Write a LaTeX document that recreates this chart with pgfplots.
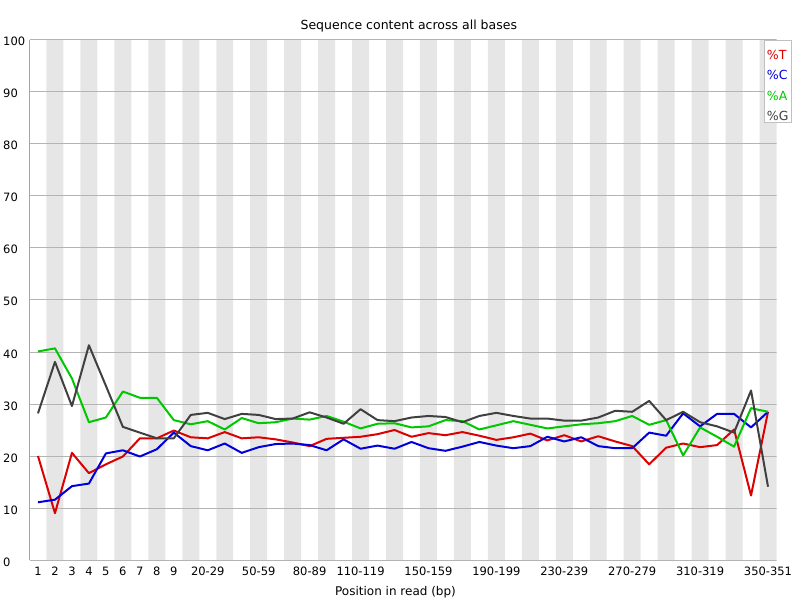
\documentclass[border=0pt]{standalone}
\usepackage{pgfplots}
\pgfplotsset{compat=1.18}
\usepackage{fontspec}
\setmainfont{DejaVu Sans}
\definecolor{cT}{RGB}{220,0,0}
\definecolor{cC}{RGB}{0,0,220}
\definecolor{cA}{RGB}{0,200,0}
\definecolor{cG}{RGB}{64,64,64}
\definecolor{stripe}{RGB}{230,230,230}
\definecolor{gridc}{RGB}{180,180,180}
\definecolor{legc}{RGB}{192,192,192}
\pgfplotstableread{
i T C A G
0 20.0 11.1 40.1 28.2
1 9.0 11.6 40.7 38.1
2 20.6 14.2 34.9 29.6
3 16.7 14.7 26.5 41.3
4 18.4 20.5 27.4 33.5
5 19.9 21.1 32.4 25.6
6 23.4 19.9 31.2 24.5
7 23.4 21.3 31.2 23.4
8 24.9 24.5 26.9 23.4
9 23.6 21.9 26.1 27.9
10 23.4 21.1 26.7 28.3
11 24.6 22.4 25.1 27.1
12 23.4 20.6 27.3 28.1
13 23.6 21.7 26.3 27.9
14 23.2 22.3 26.5 27.1
15 22.6 22.4 27.2 27.2
16 21.9 22.1 27.0 28.4
17 23.3 21.1 27.7 27.4
18 23.5 23.2 26.6 26.2
19 23.7 21.4 25.3 29.0
20 24.2 22.0 26.2 26.9
21 25.0 21.4 26.3 26.7
22 23.7 22.7 25.5 27.4
23 24.4 21.5 25.7 27.7
24 24.0 21.0 26.9 27.5
25 24.6 21.8 26.7 26.5
26 23.9 22.7 25.1 27.7
27 23.1 22.0 25.9 28.3
28 23.6 21.5 26.7 27.7
29 24.3 21.9 26.0 27.2
30 23.0 23.7 25.3 27.2
31 24.0 22.8 25.7 26.8
32 22.8 23.6 26.1 26.8
33 23.8 21.9 26.3 27.4
34 22.8 21.5 26.7 28.7
35 21.9 21.5 27.7 28.5
36 18.4 24.5 26.0 30.6
37 21.6 23.9 26.9 26.9
38 22.4 28.2 20.1 28.5
39 21.7 25.7 25.5 26.5
40 22.1 28.1 23.7 25.7
41 25.1 28.1 21.8 24.5
42 12.4 25.5 29.2 32.6
43 28.5 28.5 28.5 14.1
}\seqtable
\begin{document}
\begin{tikzpicture}
\path[use as bounding box] (-29.5pt,-40pt) rectangle (770.5pt,560pt);
\begin{axis}[
  at={(0pt,0pt)}, anchor=south west,
  scale only axis, width=747pt, height=520pt,
  xmin=-0.5, xmax=43.5, ymin=0, ymax=100,
  axis line style={draw=none},
  major tick length=0pt,
  ytick={0,10,20,30,40,50,60,70,80,90,100},
  yticklabels={0,10,20,30,40,50,60,70,80,90,100},
  xtick={0,1,2,3,4,5,6,7,8,10,13,16,19,23,27,31,35,39,43},
  xticklabels={1,2,3,4,5,6,7,8,9,20-29,50-59,80-89,110-119,150-159,190-199,230-239,270-279,310-319,350-351},
  xticklabel style={font=\fontsize{11.5}{13}\selectfont, anchor=base, yshift=-15pt, inner sep=0pt},
  yticklabel style={font=\fontsize{11.5}{13}\selectfont, anchor=base west, xshift=-26.5pt, yshift=-6pt, inner sep=0pt},
]
\addplot[ybar, bar width=1, fill=stripe, draw=none]
  coordinates {(1,100) (3,100) (5,100) (7,100) (9,100) (11,100) (13,100) (15,100) (17,100) (19,100) (21,100) (23,100) (25,100) (27,100) (29,100) (31,100) (33,100) (35,100) (37,100) (39,100) (41,100) (43,100)};
\pgfplotsinvokeforeach{0,10,...,100}{\draw[gridc, line width=1pt] (axis cs:-0.5,#1) -- (axis cs:43.5,#1);}
\addplot[cT, mark=none, line width=2pt, line join=round] table[x=i, y=T] {\seqtable};
\addplot[cC, mark=none, line width=2pt, line join=round] table[x=i, y=C] {\seqtable};
\addplot[cA, mark=none, line width=2pt, line join=round] table[x=i, y=A] {\seqtable};
\addplot[cG, mark=none, line width=2pt, line join=round] table[x=i, y=G] {\seqtable};
\draw[black, line width=1pt] (axis cs:-0.5,0) -- (axis cs:-0.5,100);
\end{axis}
\node[anchor=base, inner sep=0pt, font=\fontsize{12.5}{14}\selectfont] at (379.3pt,530pt) {Sequence content across all bases};
\node[anchor=base, inner sep=0pt, font=\fontsize{12}{14}\selectfont] at (366pt,-35pt) {Position in read (bp)};
\draw[legc, fill=white, line width=1pt] (734.5pt,437pt) rectangle (761.5pt,519.3pt);
\begin{scope}[every node/.style={anchor=base west, inner sep=0pt, font=\fontsize{12.5}{14}\selectfont}]
\node[text=cT] at (737.2pt,500pt) {\%T};
\node[text=cC] at (737.2pt,480pt) {\%C};
\node[text=cA] at (737.2pt,459.3pt) {\%A};
\node[text=cG] at (737.2pt,439.3pt) {\%G};
\end{scope}
\end{tikzpicture}
\end{document}
